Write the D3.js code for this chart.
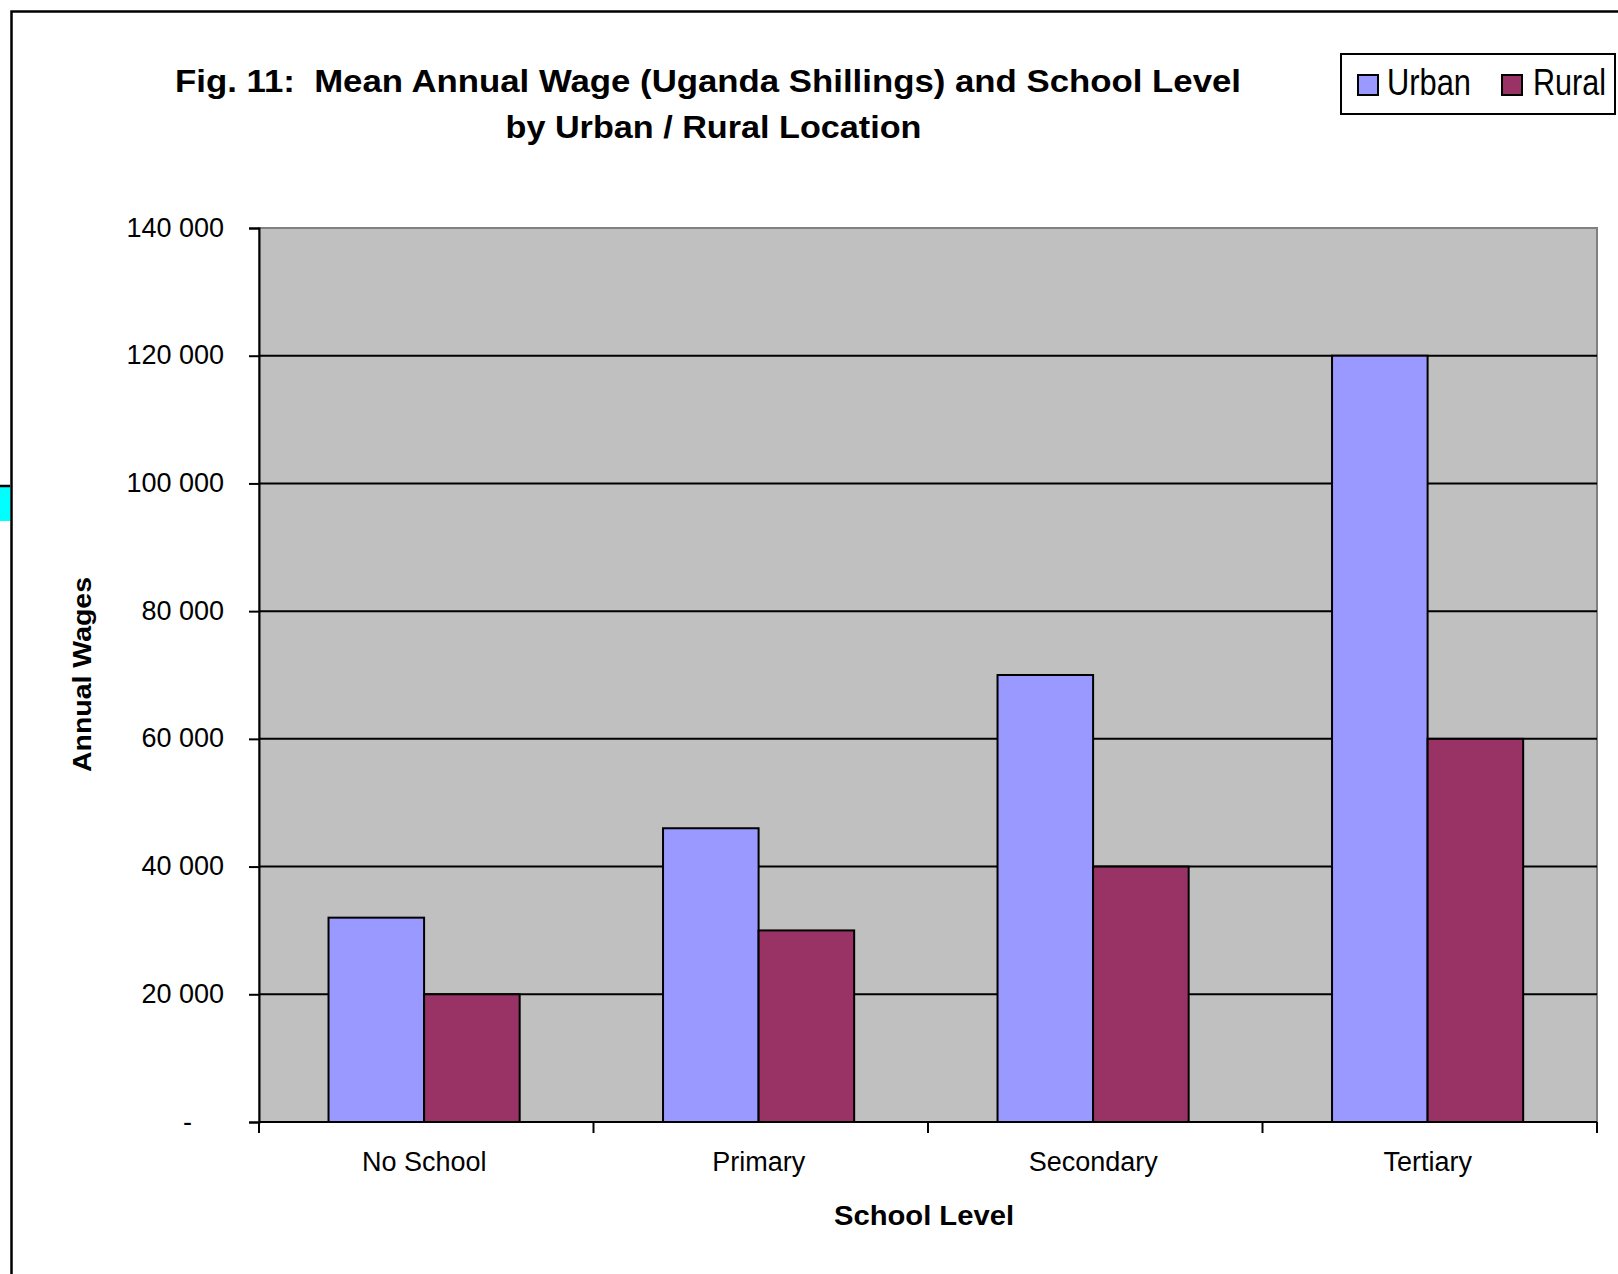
<!DOCTYPE html>
<html>
<head>
<meta charset="utf-8">
<script src="https://cdn.jsdelivr.net/npm/d3@7"></script>
<style>
  html, body { margin: 0; padding: 0; background: #fff; }
  svg { display: block; }
  text { font-family: "Liberation Sans", Arial, sans-serif; fill: #000; }
</style>
</head>
<body>
<svg id="chart" width="1618" height="1274"></svg>
<script>
// Mean annual wage by school level, urban vs rural
const categories = ["No School", "Primary", "Secondary", "Tertiary"];
const seriesNames = ["Urban", "Rural"];
const urbanValues = [32000, 46000, 70000, 120000];
const ruralValues = [20000, 30000, 40000, 60000];
const yTicks = [0, 20000, 40000, 60000, 80000, 100000, 120000, 140000];
const seriesColors = ["#9999FF", "#993366"];

const svg = d3.select("#chart");

// outer frame of the chart object
svg.append("rect")
  .attr("x", 11.5).attr("y", 11.5)
  .attr("width", 1800).attr("height", 1500)
  .attr("fill", "#fff").attr("stroke", "#000").attr("stroke-width", 2.5);

// small strip at the left edge
svg.append("rect").attr("x", 0).attr("y", 487).attr("width", 10).attr("height", 34).attr("fill", "#00FFFF");
svg.append("line").attr("x1", 0).attr("x2", 10).attr("y1", 486).attr("y2", 486)
  .attr("stroke", "#000").attr("stroke-width", 2.5);

const plot = { left: 259, right: 1597, top: 228, bottom: 1122 };

const x = d3.scaleBand().domain(categories).range([plot.left, plot.right]).paddingInner(0).paddingOuter(0);
const xSub = d3.scaleBand().domain(seriesNames).range([0, x.bandwidth()])
  .paddingInner(0).paddingOuter(0.75).align(0.485);
const y = d3.scaleLinear().domain([0, 140000]).range([plot.bottom, plot.top]);

// plot area
svg.append("rect")
  .attr("x", plot.left).attr("y", plot.top)
  .attr("width", plot.right - plot.left).attr("height", plot.bottom - plot.top)
  .attr("fill", "#C0C0C0").attr("stroke", "#808080").attr("stroke-width", 2);

// gridlines
svg.append("g").selectAll("line")
  .data(yTicks.filter(v => v > 0 && v < 140000))
  .join("line")
  .attr("x1", plot.left).attr("x2", plot.right)
  .attr("y1", d => y(d)).attr("y2", d => y(d))
  .attr("stroke", "#000").attr("stroke-width", 2);

// bars
const data = categories.map((c, i) => ({ cat: c, vals: [urbanValues[i], ruralValues[i]] }));
const groups = svg.append("g").selectAll("g")
  .data(data).join("g")
  .attr("transform", d => `translate(${x(d.cat)},0)`);
groups.selectAll("rect")
  .data(d => d.vals.map((v, j) => ({ name: seriesNames[j], v, j })))
  .join("rect")
  .attr("x", d => xSub(d.name))
  .attr("width", xSub.bandwidth())
  .attr("y", d => y(d.v))
  .attr("height", d => y(0) - y(d.v))
  .attr("fill", d => seriesColors[d.j])
  .attr("stroke", "#000").attr("stroke-width", 2);

// y axis
const fmt = v => v === 0 ? "-" : d3.format(",")(v).replace(/,/g, " ");
const yAxis = svg.append("g")
  .attr("transform", `translate(${plot.left},0)`)
  .call(d3.axisLeft(y).tickValues(yTicks).tickFormat(fmt).tickSize(10).tickPadding(25));
yAxis.select(".domain").attr("stroke", "#000").attr("stroke-width", 2);
yAxis.selectAll(".tick line").attr("stroke", "#000").attr("stroke-width", 2);
yAxis.selectAll(".tick text")
  .style("font-family", '"Liberation Sans", Arial, sans-serif')
  .attr("font-size", 27).attr("fill", "#000").attr("dy", "0.3em");
yAxis.selectAll(".tick").filter(d => d === 0).select("text")
  .attr("x", -67);

// x axis with ticks at category boundaries
const xAxisG = svg.append("g").attr("transform", `translate(0,${plot.bottom})`);
xAxisG.append("line").attr("x1", plot.left).attr("x2", plot.right)
  .attr("stroke", "#000").attr("stroke-width", 2);
const boundaries = categories.map(c => x(c)).concat([plot.right]);
xAxisG.selectAll("line.tk").data(boundaries).join("line").attr("class", "tk")
  .attr("x1", d => d).attr("x2", d => d).attr("y1", 0).attr("y2", 11)
  .attr("stroke", "#000").attr("stroke-width", 2);
xAxisG.selectAll("text").data(categories).join("text")
  .attr("x", d => x(d) + x.bandwidth() / 2 - 2)
  .attr("y", 48.5)
  .attr("text-anchor", "middle")
  .attr("font-size", 27)
  .text(d => d);

// titles
const title = svg.append("g").attr("font-weight", "bold");
title.append("text").attr("x", 708).attr("y", 92).attr("text-anchor", "middle")
  .attr("font-size", 32).style("white-space", "pre")
  .attr("textLength", 1066).attr("lengthAdjust", "spacingAndGlyphs")
  .text("Fig. 11:  Mean Annual Wage (Uganda Shillings) and School Level");
title.append("text").attr("x", 713.5).attr("y", 138).attr("text-anchor", "middle")
  .attr("font-size", 32)
  .attr("textLength", 416).attr("lengthAdjust", "spacingAndGlyphs")
  .text("by Urban / Rural Location");

svg.append("text")
  .attr("transform", "translate(91,674.5) rotate(-90)")
  .attr("text-anchor", "middle").attr("font-weight", "bold").attr("font-size", 26)
  .attr("textLength", 195).attr("lengthAdjust", "spacingAndGlyphs")
  .text("Annual Wages");

svg.append("text")
  .attr("x", 924).attr("y", 1225).attr("text-anchor", "middle")
  .attr("font-weight", "bold").attr("font-size", 27)
  .attr("textLength", 180).attr("lengthAdjust", "spacingAndGlyphs")
  .text("School Level");

// legend
const legend = svg.append("g");
legend.append("rect").attr("x", 1341).attr("y", 54).attr("width", 274).attr("height", 60)
  .attr("fill", "#fff").attr("stroke", "#000").attr("stroke-width", 2);
const legendItems = [
  { name: seriesNames[0], color: seriesColors[0], sx: 1358, tx: 1387, tw: 84 },
  { name: seriesNames[1], color: seriesColors[1], sx: 1502, tx: 1533, tw: 73 }
];
legendItems.forEach(it => {
  legend.append("rect").attr("x", it.sx).attr("y", 75).attr("width", 20).attr("height", 20)
    .attr("fill", it.color).attr("stroke", "#000").attr("stroke-width", 2);
  legend.append("text").attr("x", it.tx).attr("y", 95)
    .attr("font-size", 36)
    .attr("textLength", it.tw).attr("lengthAdjust", "spacingAndGlyphs")
    .text(it.name);
});
</script>
</body>
</html>
